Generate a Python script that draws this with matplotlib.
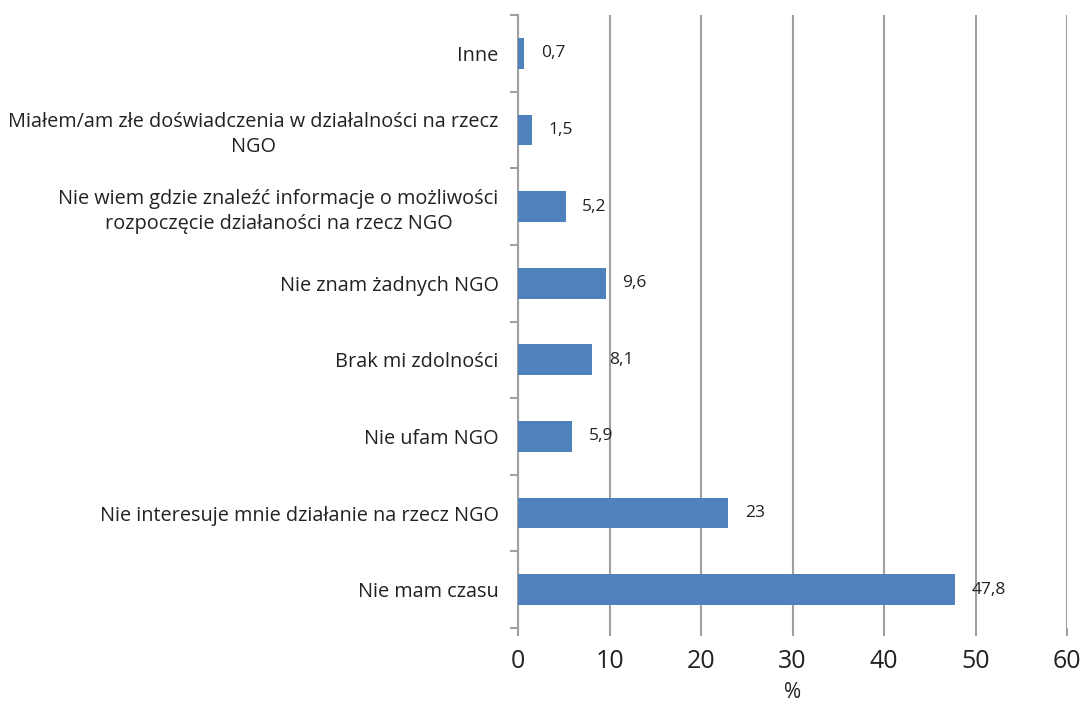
import matplotlib.pyplot as plt
import numpy as np

categories = [
    "Nie mam czasu",
    "Nie interesuje mnie działanie na rzecz NGO",
    "Nie ufam NGO",
    "Brak mi zdolności",
    "Nie znam żadnych NGO",
    "Nie wiem gdzie znaleźć informacje o możliwości\nrozpoczęcie działaności na rzecz NGO",
    "Miałem/am złe doświadczenia w działalności na rzecz\nNGO",
    "Inne",
]
values = [47.8, 23, 5.9, 8.1, 9.6, 5.2, 1.5, 0.7]
value_labels = ["47,8", "23", "5,9", "8,1", "9,6", "5,2", "1,5", "0,7"]
x_ticks = [0, 10, 20, 30, 40, 50, 60]

plt.rcParams['font.family'] = ['Open Sans', 'DejaVu Sans']

fig = plt.figure(figsize=(10.81, 7.02), dpi=100)
ax = fig.add_axes([518 / 1081, 1 - 628 / 702, (1067 - 518) / 1081, (628 - 15) / 702])

bar_color = "#4F81BD"
grid_color = "#A0A0A0"
text_color = "#222222"
y = np.arange(len(categories))
ax.barh(y, values, height=0.4, color=bar_color, zorder=3)

# value labels just right of each bar
for yi, v, lab in zip(y, values, value_labels):
    ax.annotate(lab, (v, yi), xytext=(12, 0), textcoords="offset points",
                va="center", ha="left", fontsize=12.5, color=text_color)

ax.set_xlim(0, 60)
ax.set_ylim(-0.5, len(categories) - 0.5)
ax.set_xticks(x_ticks)
ax.set_xticklabels([str(t) for t in x_ticks], fontsize=18, color=text_color)
ax.set_xlabel("%", fontsize=15, color=text_color, labelpad=6)

ax.set_yticks(y)
ax.set_yticklabels(categories, fontsize=14.3, color=text_color, linespacing=1.3,
                   multialignment="center")
# tick marks sit between categories
ax.set_yticks(np.arange(-0.5, len(categories), 1), minor=True)
ax.tick_params(axis="y", which="major", length=0, pad=14)
ax.tick_params(axis="y", which="minor", length=6, width=1.5, color=grid_color)
ax.tick_params(axis="x", length=6, width=1.5, color=grid_color, pad=9)

ax.xaxis.grid(True, color=grid_color, linewidth=1.5, zorder=0)
ax.set_axisbelow(True)
for side in ["top", "right", "bottom"]:
    ax.spines[side].set_visible(False)
ax.spines["left"].set_color(grid_color)
ax.spines["left"].set_linewidth(1.5)

fig.savefig("out.png", dpi=100)
